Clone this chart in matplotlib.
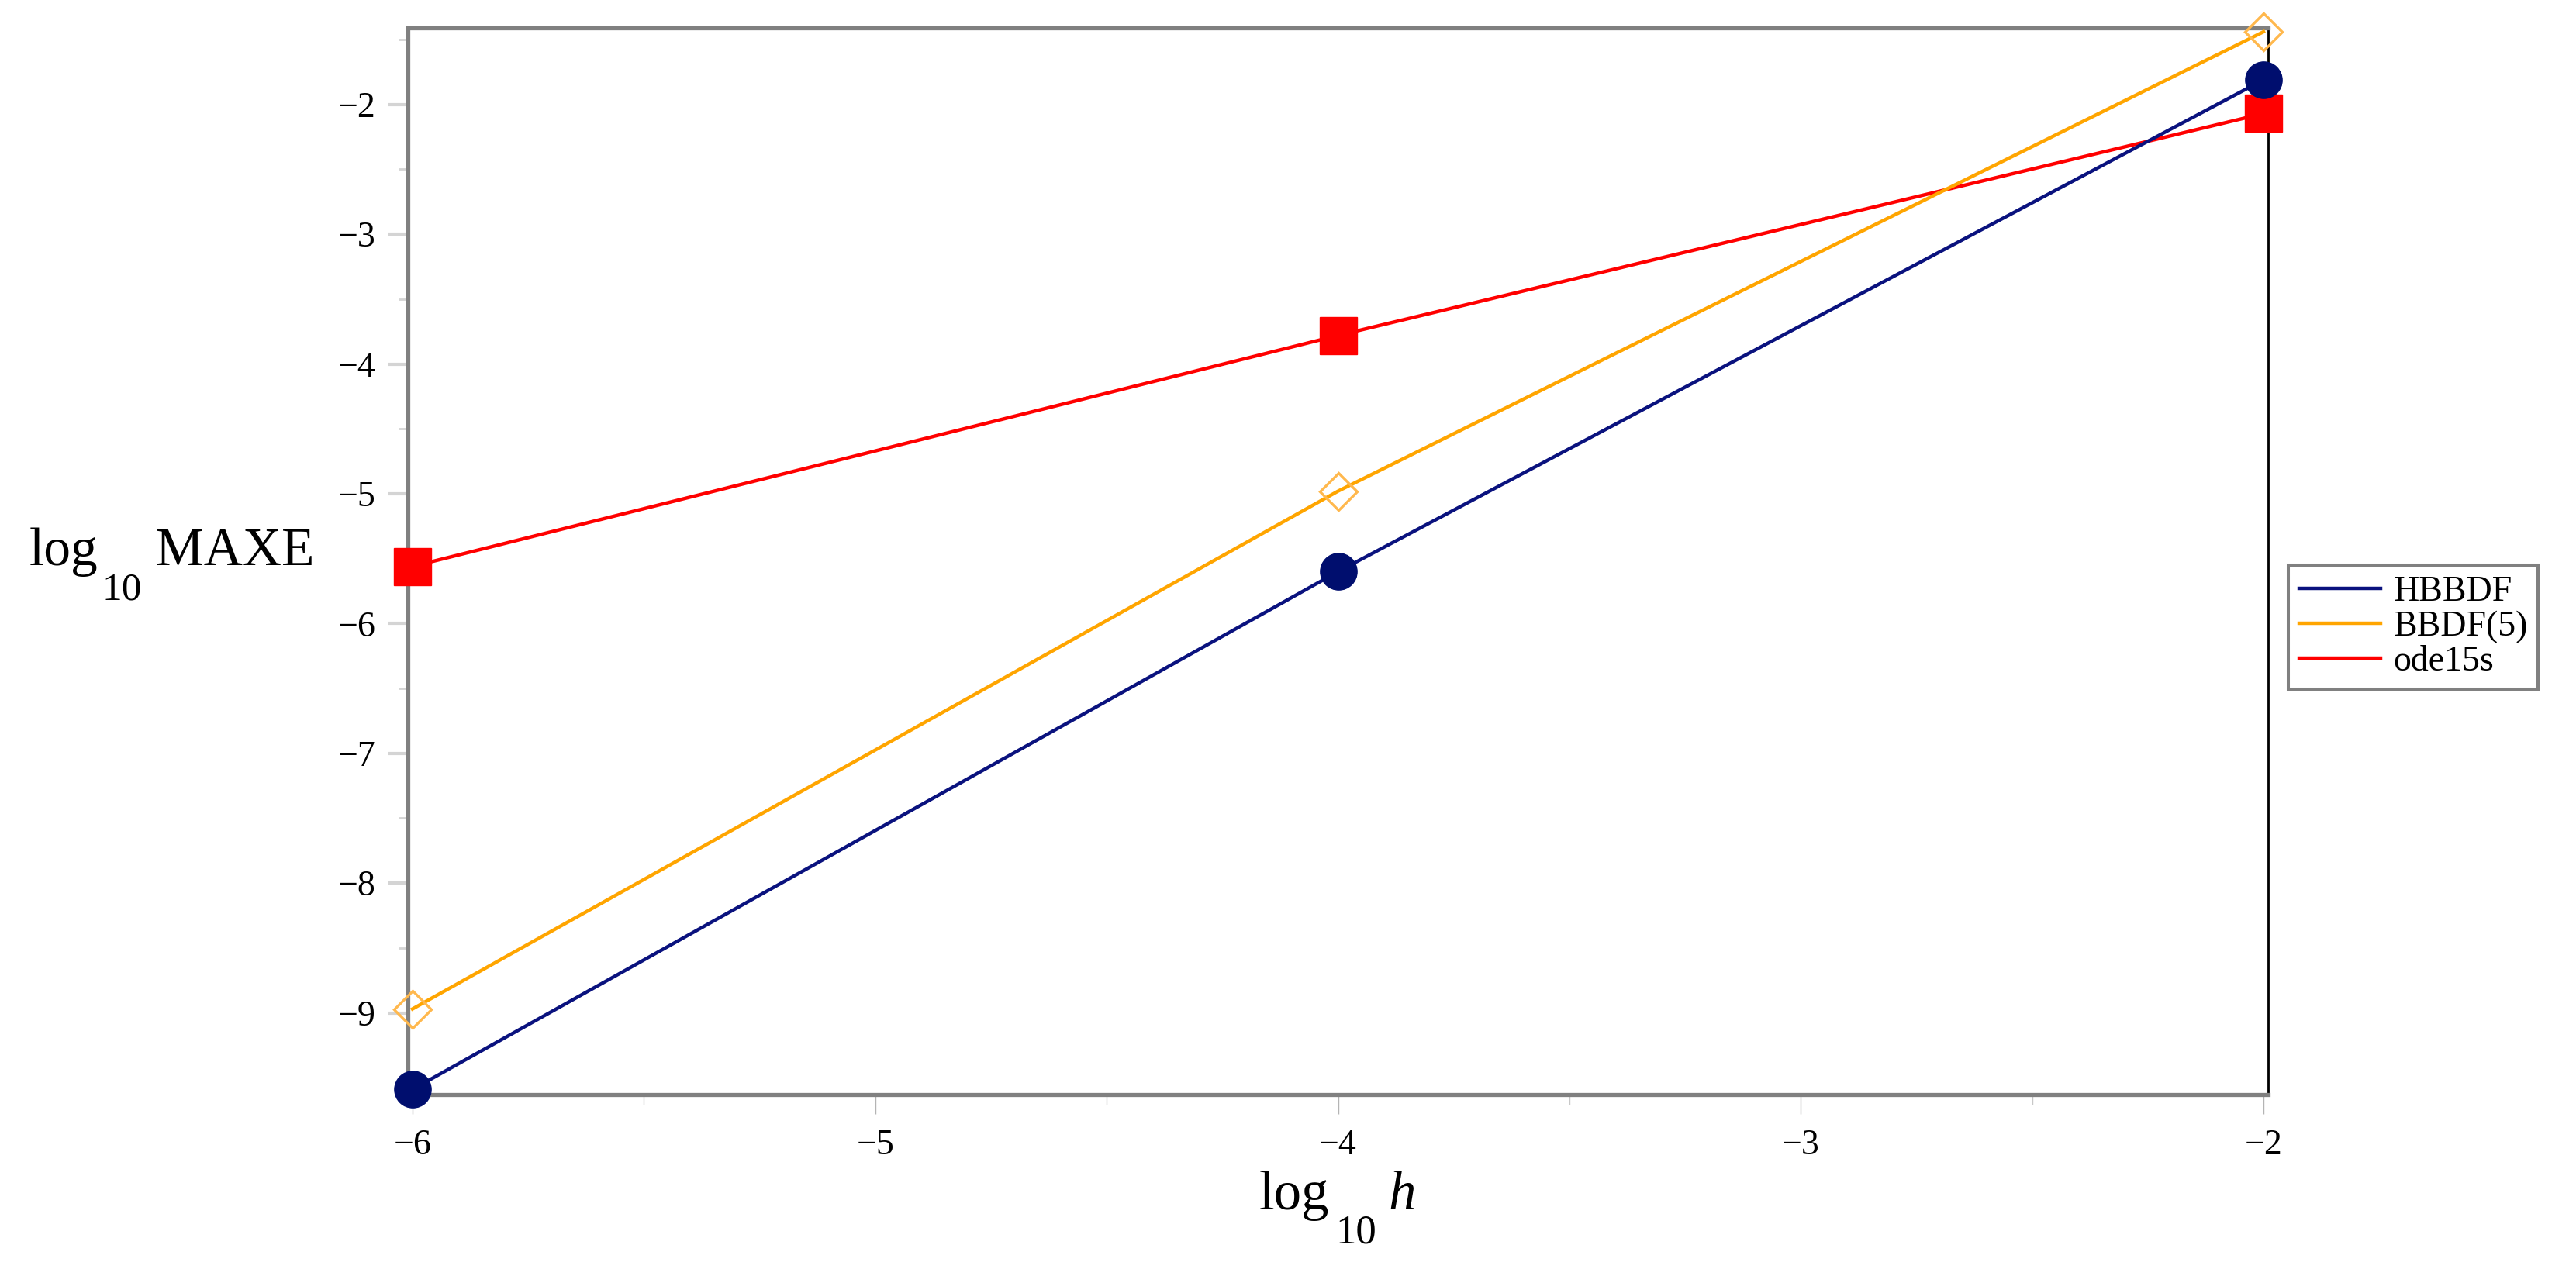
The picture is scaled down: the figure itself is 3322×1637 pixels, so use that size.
import matplotlib
matplotlib.use("Agg")
import matplotlib.pyplot as plt
from matplotlib.ticker import MultipleLocator

plt.rcParams['font.family'] = ['Liberation Serif', 'DejaVu Serif']

# log10 h
log_h = [-6, -4, -2]

# log10 MAXE per method
hbbdf = [-9.59, -5.60, -1.81]
bbdf5 = [-8.97, -4.98, -1.44]
ode15s = [-5.56, -3.78, -2.07]

labels = ["HBBDF", "BBDF(5)", "ode15s"]

W, H = 3322, 1637
fig = plt.figure(figsize=(W / 100, H / 100), dpi=100)
ax = fig.add_axes([526 / W, 1 - 1412 / H, (2925 - 526) / W, (1412 - 36) / H])

ax.plot(log_h, hbbdf, '-', color='#0a127e', lw=3.2, marker='o', ms=34,
        mfc='#000e6e', mec='#000e6e', label=labels[0], clip_on=False, zorder=5)
ax.plot(log_h, bbdf5, '-', color='#ffa500', lw=3.2, marker='D', ms=24,
        mfc='none', mec='#ffb84d', mew=2.4, label=labels[1], clip_on=False, zorder=4)
ax.plot(log_h, ode15s, '-', color='#ff0000', lw=3.2, marker='s', ms=34,
        mfc='#ff0000', mec='#ff0000', label=labels[2], clip_on=False, zorder=3)

ax.set_xlim(-6.01, -1.99)
ax.set_ylim(-9.63, -1.41)
ax.xaxis.set_major_locator(MultipleLocator(1))
ax.xaxis.set_minor_locator(MultipleLocator(0.5))
ax.yaxis.set_major_locator(MultipleLocator(1))
ax.yaxis.set_minor_locator(MultipleLocator(0.5))

for side in ['left', 'top', 'bottom']:
    ax.spines[side].set_color('#808080')
    ax.spines[side].set_linewidth(3.8)
ax.spines['right'].set_color('black')
ax.spines['right'].set_linewidth(2)

ax.tick_params(axis='y', which='major', direction='out', length=18, width=3,
               color='#d4d4d4', labelsize=33, pad=12)
ax.tick_params(axis='y', which='minor', direction='out', length=9, width=2,
               color='#d4d4d4')
ax.tick_params(axis='x', which='major', direction='out', length=18, width=1,
               color='#b4b4b4', labelsize=33, pad=14)
ax.tick_params(axis='x', which='minor', direction='out', length=9, width=1,
               color='#c8c8c8')

# axis labels: "log" + lowered subscript "10" + name, as in the original
def fig_txt(x, y, s, size, **kw):
    fig.text(x / W, 1 - y / H, s, fontsize=size, ha='left', va='baseline', **kw)

fig_txt(38, 729, "log", 50)
fig_txt(131, 773, "10", 37)
fig_txt(201, 729, "MAXE", 50)

fig_txt(1624, 1560, "log", 51)
fig_txt(1722, 1603, "10", 38)
fig_txt(1790, 1560, "h", 51, style='italic')

leg = ax.legend(loc='upper left', bbox_to_anchor=(2951 / W, 1 - 729 / H),
                bbox_transform=fig.transFigure, borderaxespad=0,
                fontsize=33, handlelength=2.3, handletextpad=0.35,
                labelspacing=0.05, fancybox=False, framealpha=1,
                edgecolor='#808080', borderpad=0.3)
leg.get_frame().set_linewidth(2.9)
for line in leg.get_lines():
    line.set_marker('')
    line.set_linewidth(3.2)

fig.savefig("out.png", dpi=100)
